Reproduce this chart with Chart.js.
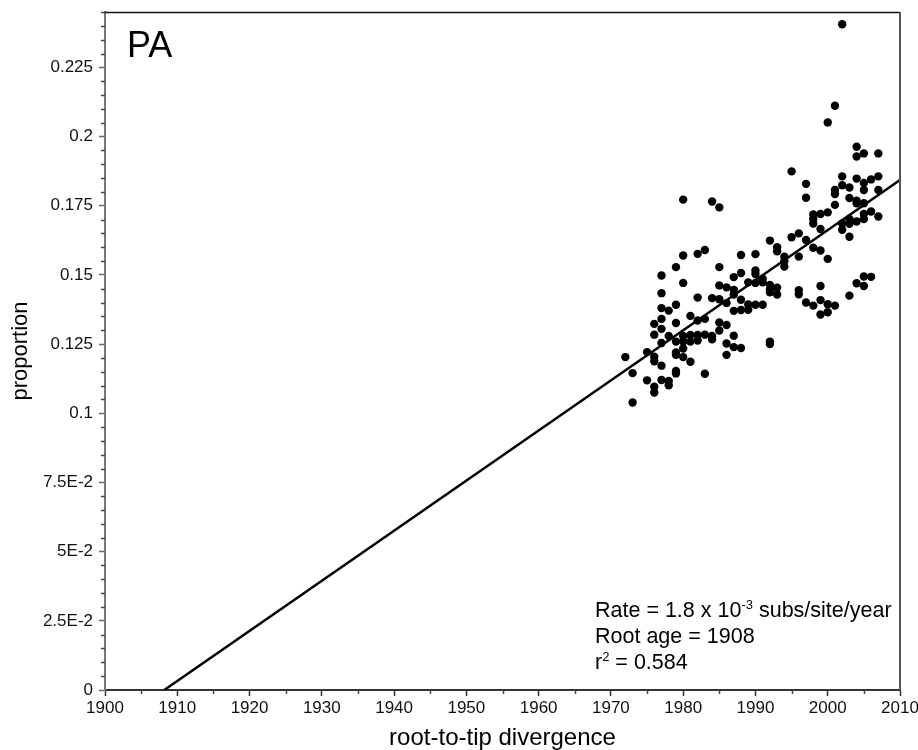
<!DOCTYPE html>
<html>
<head>
<meta charset="utf-8">
<title>PA root-to-tip</title>
<script src="https://cdn.jsdelivr.net/npm/chart.js@4.4.0/dist/chart.umd.min.js"></script>
<style>
  html,body{margin:0;padding:0;background:#fff;}
  #wrap{width:918px;height:750px;}
</style>
</head>
<body>
<div id="wrap"><canvas id="chartPA" width="918" height="750"></canvas></div>
<script>
// === DATI ===
const sampleYears = [1972,1973,1975,1976,1977,1978,1979,1980,1981,1982,1983,1984,1985,1986,1987,1988,1989,
  1990,1991,1992,1993,1994,1995,1996,1997,1998,1999,2000,2001,2002,2003,2004,2005,2006,2007];
const sampleValues = [
  [0.1203],
  [0.1145,0.1039],
  [0.1221,0.1119],
  [0.1323,0.1284,0.1204,0.1188,0.1096,0.1075],
  [0.1498,0.1434,0.1380,0.1341,0.1305,0.1254,0.1172,0.1120],
  [0.1371,0.1279,0.1117,0.1101],
  [0.1528,0.1392,0.1326,0.1259,0.1220,0.1211,0.1153,0.1144],
  [0.1772,0.1570,0.1471,0.1279,0.1259,0.1234,0.1203],
  [0.1352,0.1283,0.1259,0.1186],
  [0.1576,0.1418,0.1335,0.1283,0.1263],
  [0.1590,0.1341,0.1284,0.1143],
  [0.1765,0.1416,0.1279,0.1267],
  [0.1744,0.1528,0.1462,0.1412,0.1328,0.1299],
  [0.1455,0.1398,0.1319,0.1252,0.1211],
  [0.1492,0.1446,0.1429,0.1370,0.1280,0.1239],
  [0.1572,0.1507,0.1410,0.1373,0.1236],
  [0.1473,0.1393,0.1374],
  [0.1575,0.1516,0.1503,0.1471,0.1392],
  [0.1486,0.1473,0.1392],
  [0.1624,0.1464,0.1447,0.1437,0.1259,0.1250],
  [0.1600,0.1585,0.1454,0.1429],
  [0.1566,0.1549,0.1530],
  [0.1874,0.1636],
  [0.1650,0.1566,0.1445,0.1430],
  [0.1829,0.1779,0.1626,0.1400],
  [0.1718,0.1702,0.1686,0.1598,0.1389],
  [0.1720,0.1666,0.1588,0.1460,0.1409,0.1357],
  [0.2051,0.1726,0.1558,0.1394,0.1365],
  [0.2111,0.1807,0.1792,0.1753,0.1389],
  [0.2406,0.1856,0.1824,0.1686,0.1663],
  [0.1816,0.1778,0.1702,0.1685,0.1638,0.1425],
  [0.1963,0.1928,0.1848,0.1768,0.1759,0.1693,0.1470],
  [0.1939,0.1832,0.1807,0.1759,0.1720,0.1702,0.1494,0.1460],
  [0.1845,0.1729,0.1493],
  [0.1939,0.1856,0.1807,0.1711]
];
// retta di regressione (radice 1908)
const fitYears = [1908.2, 2010];
const fitValues = [0, 0.1843];

const xTicks = [1900,1910,1920,1930,1940,1950,1960,1970,1980,1990,2000,2010];
const yTicks = [0,0.025,0.05,0.075,0.1,0.125,0.15,0.175,0.2,0.225];
const yTickLabels = ["0","2.5E-2","5E-2","7.5E-2","0.1","0.125","0.15","0.175","0.2","0.225"];

const panelLabel = "PA";
const xTitle = "root-to-tip divergence";
const yTitle = "proportion";
const FONT = "'Liberation Sans', Arial, sans-serif";

// punti
const points = [];
sampleYears.forEach((yr,i)=>sampleValues[i].forEach(v=>points.push({x:yr,y:v})));
const fitLine = fitYears.map((yr,i)=>({x:yr,y:fitValues[i]}));

// === PLUGIN: cornice, tacche minori, testi ===
const extras = {
  id:"extras",
  afterDraw(c){
    const {ctx,chartArea:a,scales:{x,y}} = c;
    ctx.save();
    // cornice sopra e a destra
    ctx.lineWidth=1.5; ctx.strokeStyle="#111";
    ctx.beginPath(); ctx.moveTo(a.left,a.top+0.5); ctx.lineTo(a.right,a.top+0.5); ctx.stroke();
    ctx.lineWidth=2; ctx.strokeStyle="#555";
    ctx.beginPath(); ctx.moveTo(a.right,a.top); ctx.lineTo(a.right,a.bottom); ctx.stroke();
    // tacche minori
    ctx.lineWidth=1.5; ctx.strokeStyle="#444";
    for(let v=xTicks[0]+5; v<x.max; v+=10){
      const px=Math.round(x.getPixelForValue(v))+0.5;
      ctx.beginPath(); ctx.moveTo(px,a.bottom); ctx.lineTo(px,a.bottom+4); ctx.stroke();
    }
    for(let k=1; k*0.005<=y.max+1e-9; k++){
      if(k%5===0) continue;
      const py=Math.round(y.getPixelForValue(k*0.005))+0.5;
      ctx.beginPath(); ctx.moveTo(a.left,py); ctx.lineTo(a.left-4,py); ctx.stroke();
    }
    // etichetta pannello
    ctx.fillStyle="#000"; ctx.textBaseline="alphabetic"; ctx.textAlign="left";
    ctx.font="36px "+FONT;
    ctx.fillText(panelLabel,a.left+22,a.top+45);
    // testo statistiche
    const big="21.5px "+FONT, small="13px "+FONT;
    const tx=a.left+490;
    let by=a.bottom-73;
    const run=(parts,base)=>{
      let cx=tx;
      parts.forEach(([t,sup])=>{
        ctx.font=sup?small:big;
        ctx.fillText(t,cx,sup?base-8:base);
        cx+=ctx.measureText(t).width;
      });
    };
    run([["Rate = 1.8 x 10"],["-3",1],[" subs/site/year"]],by);
    run([["Root age = 1908"]],by+26);
    run([["r"],["2",1],[" = 0.584"]],by+52);
    ctx.restore();
  }
};

const ctx = document.getElementById("chartPA");
const chart = new Chart(ctx,{
  type:"scatter",
  data:{datasets:[
    {data:fitLine,showLine:true,borderColor:"#000",borderWidth:2.5,pointRadius:0,fill:false},
    {data:points,backgroundColor:"#000",borderWidth:0,pointRadius:4.2}
  ]},
  options:{
    responsive:false,animation:false,devicePixelRatio:1,
    layout:{padding:{top:12,right:18,left:0,bottom:0}},
    plugins:{legend:{display:false},tooltip:{enabled:false}},
    scales:{
      x:{type:"linear",position:"bottom",min:1900,max:2010,
        afterBuildTicks(s){s.ticks=xTicks.map(v=>({value:v}));},
        afterFit(s){s.height=60;s.paddingLeft=0;s.paddingRight=0;},
        ticks:{font:{size:17,family:FONT},color:"#111",padding:2,maxRotation:0,autoSkip:false,
          callback:v=>String(v)},
        grid:{drawOnChartArea:false,tickLength:6,tickColor:"#333",tickWidth:1.5},
        border:{color:"#333",width:2},
        title:{display:true,text:xTitle,color:"#000",font:{size:24,family:FONT},padding:{top:0,bottom:-3}}
      },
      y:{type:"linear",position:"left",min:0,max:0.245,
        afterBuildTicks(s){s.ticks=yTicks.map(v=>({value:v}));},
        afterFit(s){s.width=105;s.paddingTop=0;s.paddingBottom=0;},
        ticks:{font:{size:17,family:FONT},color:"#111",padding:6,autoSkip:false,
          callback:v=>yTickLabels[Math.round(v/0.025)]},
        grid:{drawOnChartArea:false,tickLength:6,tickColor:"#666",tickWidth:1.5},
        border:{color:"#777",width:2},
        title:{display:true,text:yTitle,color:"#000",font:{size:22,family:FONT},padding:{top:8,bottom:0}}
      }
    }
  },
  plugins:[extras]
});
</script>
</body>
</html>
